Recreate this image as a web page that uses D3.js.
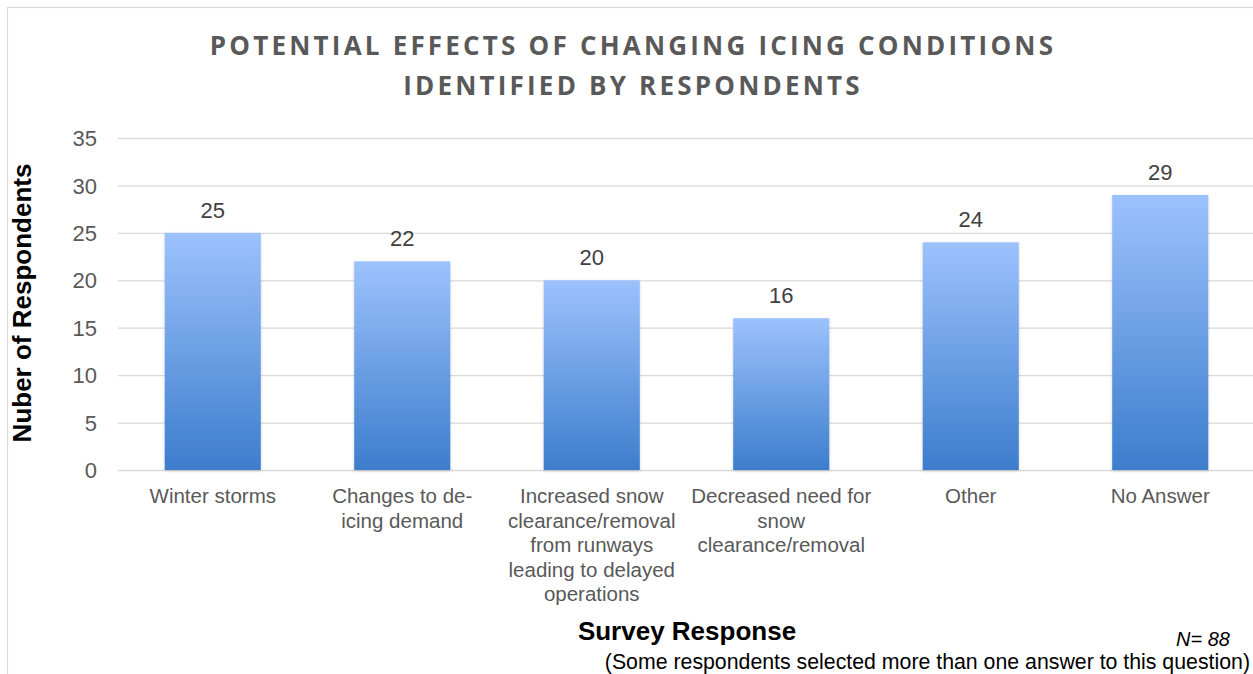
<!DOCTYPE html>
<html><head><meta charset="utf-8">
<script src="https://cdn.jsdelivr.net/npm/d3@7"></script>
<style>
html,body{margin:0;padding:0;background:#fff;}
svg{display:block;}
</style></head>
<body>
<svg id="chart" width="1253" height="674"></svg>
<script>
const categories = [
  ["Winter storms"],
  ["Changes to de-", "icing demand"],
  ["Increased snow", "clearance/removal", "from runways", "leading to delayed", "operations"],
  ["Decreased need for", "snow", "clearance/removal"],
  ["Other"],
  ["No Answer"]
];
const values = [25, 22, 20, 16, 24, 29];
const yTicks = [0, 5, 10, 15, 20, 25, 30, 35];
const titleLines = ["POTENTIAL EFFECTS OF CHANGING ICING CONDITIONS", "IDENTIFIED BY RESPONDENTS"];

const svg = d3.select("#chart");
const W = 1253, H = 674;
const m = {left: 118, right: -2, top: 138, bottom: 204};
const plotW = W - m.left - m.right, plotH = H - m.top - m.bottom;
const FONT = "Liberation Sans, Arial, sans-serif";

// border
svg.append("rect").attr("x", 7.5).attr("y", 7.5).attr("width", W + 10).attr("height", H + 10)
  .attr("fill", "none").attr("stroke", "#d9d9d9").attr("stroke-width", 1.2);

const defs = svg.append("defs");
const grad = defs.append("linearGradient").attr("id", "barGrad")
  .attr("x1", 0).attr("x2", 0).attr("y1", 0).attr("y2", 1);
grad.append("stop").attr("offset", "0%").attr("stop-color", "#9cc2fd");
grad.append("stop").attr("offset", "100%").attr("stop-color", "#3d7dcc");
const f = defs.append("filter").attr("id", "shadow").attr("x", "-10%").attr("y", "-10%").attr("width", "120%").attr("height", "120%");
f.append("feDropShadow").attr("dx", 0).attr("dy", 1).attr("stdDeviation", 1.5).attr("flood-color", "#000").attr("flood-opacity", 0.18);

const x = d3.scaleBand().domain(d3.range(categories.length)).range([m.left, m.left + plotW]).paddingInner(0.493).paddingOuter(0.2465);
const y = d3.scaleLinear().domain([0, 35]).range([m.top + plotH, m.top]);

// gridlines
svg.append("g").selectAll("line").data(yTicks).join("line")
  .attr("x1", m.left).attr("x2", m.left + plotW)
  .attr("y1", d => y(d) + 0.5).attr("y2", d => y(d) + 0.5)
  .attr("stroke", "#d9d9d9").attr("stroke-width", 1.3);

// y axis labels
const yAxis = d3.axisLeft(y).tickValues(yTicks).tickSize(0).tickPadding(0);
const gy = svg.append("g").attr("transform", `translate(97,0)`).call(yAxis);
gy.select(".domain").remove();
gy.selectAll("text").attr("font-family", FONT).attr("font-size", 22)
  .attr("fill", "#595959").attr("dy", "0.35em");

svg.append("g").selectAll("rect").data(values).join("rect")
  .attr("x", (d, i) => x(i)).attr("width", x.bandwidth())
  .attr("y", d => y(d)).attr("height", d => y(0) - y(d))
  .attr("fill", "url(#barGrad)").attr("filter", "url(#shadow)");

// value labels
svg.append("g").selectAll("text").data(values).join("text")
  .attr("x", (d, i) => x(i) + x.bandwidth() / 2).attr("y", d => y(d) - 15)
  .attr("text-anchor", "middle").attr("font-family", FONT)
  .attr("font-size", 22).attr("fill", "#404040").text(d => d);

// x labels
const xl = svg.append("g").selectAll("text").data(categories).join("text")
  .attr("text-anchor", "middle").attr("font-family", FONT)
  .attr("font-size", 20.5).attr("fill", "#595959");
xl.each(function(lines, i) {
  const t = d3.select(this);
  lines.forEach((l, j) => {
    t.append("tspan").attr("x", x(i) + x.bandwidth() / 2).attr("y", 503 + j * 24.5).text(l);
  });
});

// title
svg.append("g").selectAll("text").data(titleLines).join("text")
  .attr("x", 633).attr("y", (d, i) => 55 + i * 40)
  .attr("text-anchor", "middle").attr("font-family", "Open Sans, sans-serif")
  .attr("font-weight", "bold").attr("font-size", 26).attr("letter-spacing", 3.2)
  .attr("fill", "#595959").text(d => d);

// y title
svg.append("text").attr("transform", "translate(31,303) rotate(-90)")
  .attr("text-anchor", "middle").attr("font-family", FONT)
  .attr("font-weight", "bold").attr("font-size", 26).attr("fill", "#000")
  .text("Nuber of Respondents");

// x title
svg.append("text").attr("x", 687).attr("y", 640).attr("text-anchor", "middle")
  .attr("font-family", FONT).attr("font-weight", "bold")
  .attr("font-size", 26).attr("fill", "#000").text("Survey Response");

svg.append("text").attr("x", 1230).attr("y", 646).attr("text-anchor", "end")
  .attr("font-family", FONT).attr("font-style", "italic")
  .attr("font-size", 20).attr("fill", "#000").text("N= 88");

svg.append("text").attr("x", 1250).attr("y", 669).attr("text-anchor", "end")
  .attr("font-family", FONT)
  .attr("font-size", 21.3).attr("fill", "#000")
  .text("(Some respondents selected more than one answer to this question)");
</script>
</body></html>
